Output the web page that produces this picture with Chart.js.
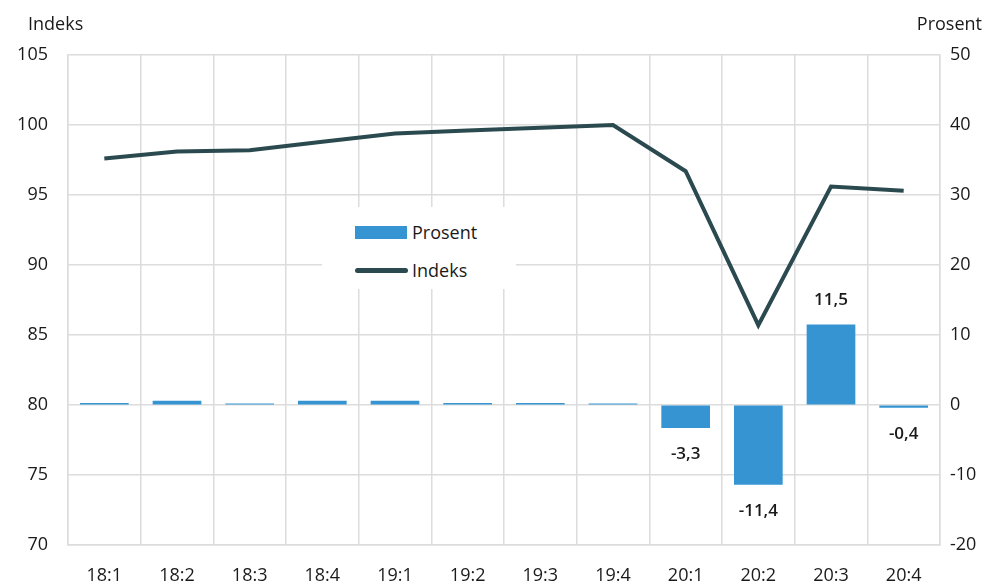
<!DOCTYPE html>
<html>
<head>
<meta charset="utf-8">
<script src="https://cdn.jsdelivr.net/npm/chart.js@4"></script>
<style>
  body { margin: 0; background: #fff; }
  #wrap { position: relative; width: 988px; height: 586px; }
  #legend {
    position: absolute; left: 322px; top: 207px; width: 194px; height: 82px;
    background: #fff; font-family: 'Open Sans', sans-serif; font-size: 18px; color: #1a1a1a;
  }
  .item { position: absolute; left: 33px; height: 24px; line-height: 24px; }
  .item span { position: absolute; left: 57px; top: 0; white-space: nowrap; }
  .swBar { position: absolute; left: 0; top: 6px; width: 52px; height: 13px; background: #3594d1; }
  .swLine { position: absolute; left: 0; top: 10px; width: 53px; height: 5px; border-radius: 3px; background: #2b4a4f; }
</style>
</head>
<body>
<div id="wrap">
  <canvas id="myChart" width="988" height="586"></canvas>
  <div id="legend">
    <div class="item" style="top:13px"><div class="swBar"></div><span>Prosent</span></div>
    <div class="item" style="top:51px"><div class="swLine"></div><span>Indeks</span></div>
  </div>
</div>
<script>
const categories = ['18:1', '18:2', '18:3', '18:4', '19:1', '19:2', '19:3', '19:4', '20:1', '20:2', '20:3', '20:4'];
const prosent = [0.3, 0.6, 0.2, 0.6, 0.6, 0.3, 0.3, 0.2, -3.3, -11.4, 11.5, -0.4];
const indeks = [97.6, 98.1, 98.2, 98.8, 99.4, 99.6, 99.8, 100.0, 96.7, 85.7, 95.6, 95.3];
const labelledBars = [8, 9, 10, 11];

const FONT = "'Open Sans', sans-serif";
const gridColor = '#dcdcdc';

// bold value labels on the last four bars
const barLabels = {
    id: 'barLabels',
    afterDatasetsDraw(chart) {
        const ctx = chart.ctx;
        const meta = chart.getDatasetMeta(1);
        ctx.save();
        ctx.font = '600 17px ' + FONT;
        ctx.fillStyle = '#1a1a1a';
        ctx.textAlign = 'center';
        ctx.textBaseline = 'middle';
        labelledBars.forEach(i => {
            const bar = meta.data[i];
            const v = prosent[i];
            const txt = v.toFixed(1).replace('.', ',');
            const y = v < 0 ? bar.y + 26 : bar.y - 24;
            ctx.fillText(txt, bar.x, y);
        });
        ctx.restore();
    }
};

// axis titles above the value axes
const axisTitles = {
    id: 'axisTitles',
    afterDraw(chart) {
        const ctx = chart.ctx;
        ctx.save();
        ctx.font = '18px ' + FONT;
        ctx.fillStyle = '#1a1a1a';
        ctx.textBaseline = 'middle';
        ctx.textAlign = 'left';
        ctx.fillText('Indeks', 28, 25);
        ctx.textAlign = 'right';
        ctx.fillText('Prosent', 982, 25);
        ctx.restore();
    }
};

new Chart(document.getElementById('myChart').getContext('2d'), {
    data: {
        labels: categories,
        datasets: [{
            type: 'line',
            label: 'Indeks',
            data: indeks,
            yAxisID: 'y',
            borderColor: '#2b4a4f',
            borderWidth: 4,
            pointRadius: 0,
            tension: 0,
            order: 0
        }, {
            type: 'bar',
            label: 'Prosent',
            data: prosent,
            yAxisID: 'y1',
            backgroundColor: '#3594d1',
            barPercentage: 0.67,
            categoryPercentage: 1,
            order: 1
        }]
    },
    options: {
        responsive: false,
        animation: false,
        layout: { padding: { top: 55, left: 0, right: 0, bottom: 0 } },
        plugins: {
            legend: { display: false },
            tooltip: { enabled: false }
        },
        scales: {
            x: {
                grid: { color: gridColor, lineWidth: 1.5, offset: true, drawTicks: false },
                border: { color: gridColor, width: 1.5 },
                ticks: { font: { family: FONT, size: 18 }, color: '#1a1a1a', padding: 20, maxRotation: 0 },
                afterFit: s => { s.height = 41; }
            },
            y: {
                position: 'left',
                min: 70, max: 105,
                ticks: { stepSize: 5, font: { family: FONT, size: 18 }, color: '#1a1a1a', padding: 20 },
                grid: { color: gridColor, lineWidth: 1.5, drawTicks: false },
                border: { color: gridColor, width: 1.5 },
                afterFit: s => { s.width = 68; }
            },
            y1: {
                position: 'right',
                min: -20, max: 50,
                ticks: { stepSize: 10, font: { family: FONT, size: 18 }, color: '#1a1a1a', padding: 10 },
                grid: { drawOnChartArea: false, drawTicks: false },
                border: { color: gridColor, width: 1.5 },
                afterFit: s => { s.width = 48; }
            }
        }
    },
    plugins: [barLabels, axisTitles]
});
</script>
</body>
</html>
